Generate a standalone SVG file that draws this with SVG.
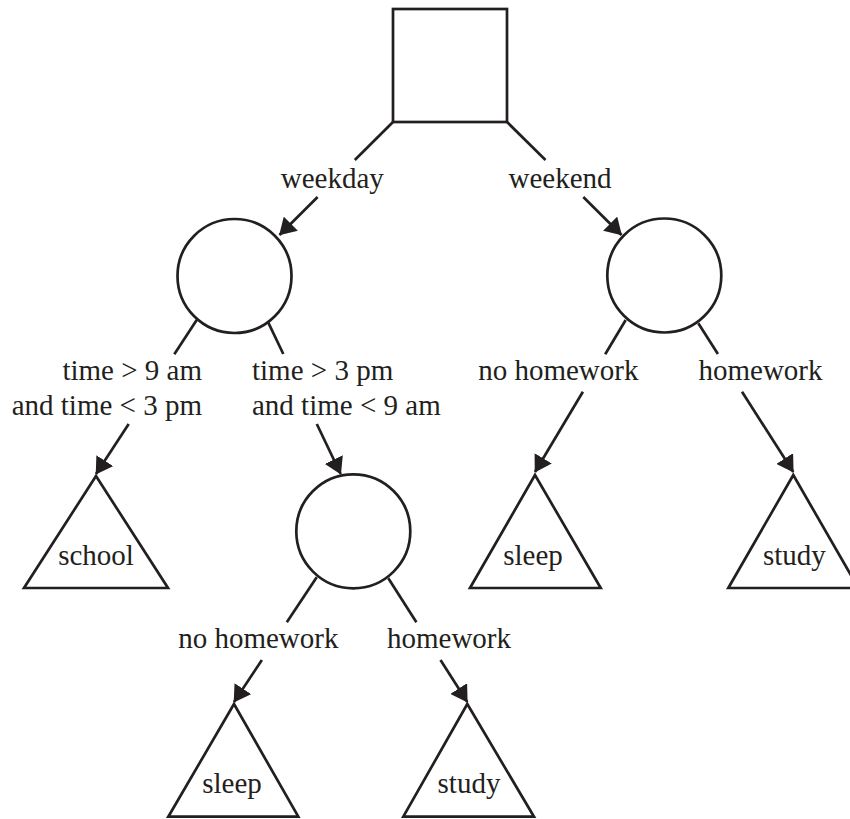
<svg xmlns="http://www.w3.org/2000/svg" width="850" height="819" viewBox="0 0 850 819">
<style>
.n{fill:#fff;stroke:#231f20;stroke-width:2.7}
.e{fill:none;stroke:#231f20;stroke-width:2.7}
.t{font-family:"Liberation Serif","Times New Roman",serif;font-size:29px;fill:#231f20}
.c{text-anchor:middle}
</style>
<defs>
<marker id="ah" markerUnits="userSpaceOnUse" markerWidth="17" markerHeight="20" refX="16" refY="10" orient="auto" viewBox="0 0 17 20">
<path d="M0,0 L16.5,10 L0,20 z" fill="#231f20"/>
</marker>
</defs>
<rect width="850" height="819" fill="#fff"/>
<g id="connectors">
<line class="e" x1="393" y1="122" x2="354.8" y2="160"/>
<line class="e" x1="317.6" y1="197" x2="279.5" y2="235" marker-end="url(#ah)"/>
<line class="e" x1="507" y1="122" x2="545.5" y2="160"/>
<line class="e" x1="583.3" y1="197" x2="621.5" y2="235" marker-end="url(#ah)"/>
<line class="e" x1="196.7" y1="320" x2="174.3" y2="354.3"/>
<line class="e" x1="128.7" y1="424" x2="96" y2="474" marker-end="url(#ah)"/>
<line class="e" x1="268.3" y1="322.7" x2="283.3" y2="354"/>
<line class="e" x1="316.8" y1="424" x2="340.7" y2="474" marker-end="url(#ah)"/>
<line class="e" x1="625.7" y1="320" x2="605.2" y2="354.3"/>
<line class="e" x1="582.9" y1="391.7" x2="535" y2="472" marker-end="url(#ah)"/>
<line class="e" x1="698.3" y1="323.3" x2="717.9" y2="354"/>
<line class="e" x1="742" y1="391.7" x2="793.3" y2="472" marker-end="url(#ah)"/>
<line class="e" x1="316.7" y1="577.3" x2="286.8" y2="622.3"/>
<line class="e" x1="261.9" y1="660" x2="234" y2="702" marker-end="url(#ah)"/>
<line class="e" x1="388.3" y1="578.3" x2="416.4" y2="622.3"/>
<line class="e" x1="440.5" y1="660" x2="467.3" y2="702" marker-end="url(#ah)"/>
<text class="t c" x="332.3" y="188">weekday</text>
<text class="t c" x="560" y="188">weekend</text>
<text class="t" x="202" y="380" text-anchor="end">time &gt; 9 am</text>
<text class="t" x="202" y="415" text-anchor="end">and time &lt; 3 pm</text>
<text class="t" x="252" y="380">time &gt; 3 pm</text>
<text class="t" x="252" y="415">and time &lt; 9 am</text>
<text class="t c" x="558.3" y="380">no homework</text>
<text class="t c" x="760.5" y="380">homework</text>
<text class="t c" x="258.3" y="648">no homework</text>
<text class="t c" x="449" y="648">homework</text>
</g>
<g id="root"><rect class="n" x="393" y="9" width="114" height="113"/></g>
<g id="chance-weekday"><circle class="n" cx="234.5" cy="276" r="57"/></g>
<g id="chance-weekend"><circle class="n" cx="664.3" cy="275.5" r="57"/></g>
<g id="chance-afternoon"><circle class="n" cx="353.3" cy="531.3" r="57"/></g>
<g id="leaf-school"><polygon class="n" points="96,476 24,588 168,588"/><text class="t c" x="96" y="565">school</text></g>
<g id="leaf-sleep-weekend"><polygon class="n" points="535,475 470,588 600.7,588"/><text class="t c" x="533" y="565">sleep</text></g>
<g id="leaf-study-weekend"><polygon class="n" points="793.3,475 728.3,588 858.3,588"/><text class="t c" x="794.3" y="565">study</text></g>
<g id="leaf-sleep-weekday"><polygon class="n" points="234,704 168.3,816.7 298.3,816.7"/><text class="t c" x="232" y="793">sleep</text></g>
<g id="leaf-study-weekday"><polygon class="n" points="467.3,704 403.3,816.7 534,816.7"/><text class="t c" x="469" y="793">study</text></g>
</svg>
